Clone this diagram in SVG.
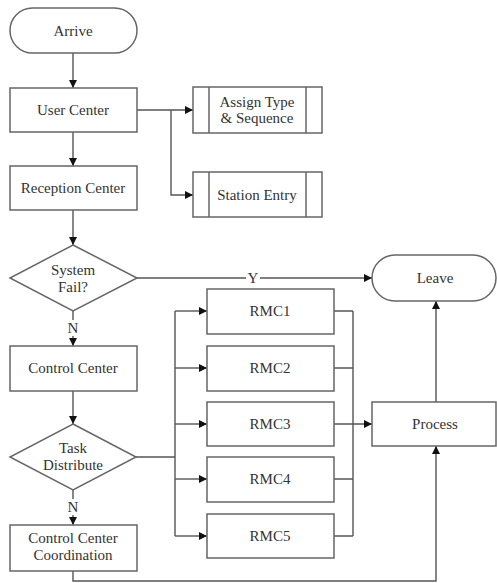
<svg xmlns="http://www.w3.org/2000/svg" width="497" height="583" viewBox="0 0 497 583">
<defs>
<marker id="ah" viewBox="0 0 10 10" refX="10" refY="5" markerWidth="8" markerHeight="8" markerUnits="userSpaceOnUse" orient="auto">
<path d="M0,0 L10,5 L0,10 z" fill="#111"/>
</marker>
<style>
.s{fill:#fff;stroke:#666;stroke-width:1.5}
.t{font-family:'Liberation Serif','DejaVu Serif',serif;font-size:15px;fill:#333;text-anchor:middle}
.c{fill:none;stroke:#555;stroke-width:1.4}
.a{marker-end:url(#ah)}
</style>
</defs>
<rect width="497" height="583" fill="#fff"/>
<g id="connectors">
<path class="c a" d="M73,53 V88"/>
<path class="c a" d="M73,132 V166"/>
<path class="c a" d="M137,110 H193"/>
<path class="c a" d="M171,110 V195 H193"/>
<path class="c a" d="M73,210 V245"/>
<path class="c a" d="M137,278 H372"/>
<path class="c a" d="M73,311 V346"/>
<path class="c a" d="M73,391 V424"/>
<path class="c" d="M136,457 H175 M175,311 V536"/>
<path class="c a" d="M175,311 H207"/>
<path class="c a" d="M175,368 H207"/>
<path class="c a" d="M175,424 H207"/>
<path class="c a" d="M175,479 H207"/>
<path class="c a" d="M175,536 H207"/>
<path class="c" d="M334,311 H353 M334,368 H353 M334,479 H353 M334,536 H353 M353,311 V536"/>
<path class="c a" d="M334,424 H372"/>
<path class="c a" d="M436,402 V301"/>
<path class="c a" d="M73,490 V525"/>
<path class="c a" d="M73,571 V581 H436 V446"/>
<rect x="246" y="270" width="14" height="16" fill="#fff"/>
<text class="t" x="253" y="283" font-family="Liberation Serif">Y</text>
<rect x="66" y="320" width="14" height="16" fill="#fff"/>
<text class="t" x="73" y="333" font-family="Liberation Serif">N</text>
<rect x="66" y="499" width="14" height="16" fill="#fff"/>
<text class="t" x="73" y="512" font-family="Liberation Serif">N</text>
</g>
<g id="arrive"><rect class="s" x="10" y="8" width="127" height="45" rx="22.5"/><text class="t" x="73" y="36">Arrive</text></g>
<g id="user-center"><rect class="s" x="10" y="88" width="127" height="44"/><text class="t" x="73" y="115">User Center</text></g>
<g id="reception-center"><rect class="s" x="10" y="166" width="127" height="44"/><text class="t" x="73" y="193">Reception Center</text></g>
<g id="assign-type"><rect class="s" x="193" y="87" width="129" height="46"/><path class="s" d="M209,87 V133 M306,87 V133"/><text class="t" x="257" y="107">Assign Type</text><text class="t" x="257" y="123">&amp; Sequence</text></g>
<g id="station-entry"><rect class="s" x="193" y="172" width="129" height="45"/><path class="s" d="M209,172 V217 M306,172 V217"/><text class="t" x="257" y="200">Station Entry</text></g>
<g id="system-fail"><polygon class="s" points="73,245 137,278 73,311 10,278"/><text class="t" x="73" y="275">System</text><text class="t" x="73" y="292">Fail?</text></g>
<g id="control-center"><rect class="s" x="10" y="346" width="127" height="45"/><text class="t" x="73" y="373">Control Center</text></g>
<g id="task-distribute"><polygon class="s" points="73,424 136,457 73,490 10,457"/><text class="t" x="73" y="453">Task</text><text class="t" x="73" y="470">Distribute</text></g>
<g id="ccc"><rect class="s" x="10" y="525" width="127" height="46"/><text class="t" x="73" y="543">Control Center</text><text class="t" x="73" y="560">Coordination</text></g>
<g id="rmc1"><rect class="s" x="207" y="289" width="127" height="45"/><text class="t" x="270" y="316">RMC1</text></g>
<g id="rmc2"><rect class="s" x="207" y="346" width="127" height="45"/><text class="t" x="270" y="373">RMC2</text></g>
<g id="rmc3"><rect class="s" x="207" y="402" width="127" height="44"/><text class="t" x="270" y="429">RMC3</text></g>
<g id="rmc4"><rect class="s" x="207" y="457" width="127" height="45"/><text class="t" x="270" y="484">RMC4</text></g>
<g id="rmc5"><rect class="s" x="207" y="514" width="127" height="44"/><text class="t" x="270" y="541">RMC5</text></g>
<g id="leave"><rect class="s" x="372" y="255" width="124" height="46" rx="23"/><text class="t" x="435" y="283">Leave</text></g>
<g id="process"><rect class="s" x="372" y="402" width="124" height="44"/><text class="t" x="435" y="429">Process</text></g>
</svg>
